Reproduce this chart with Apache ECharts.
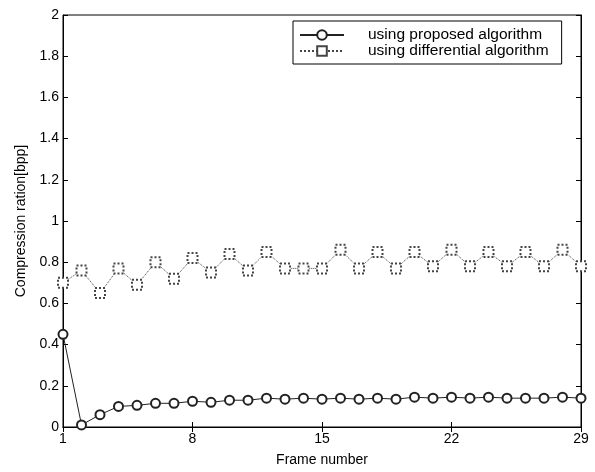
<!DOCTYPE html>
<html>
<head>
<meta charset="utf-8">
<script src="https://cdn.jsdelivr.net/npm/echarts@6/dist/echarts.min.js"></script>
<style>
  html, body { margin: 0; padding: 0; background: #fff; }
  #chartMain { width: 595px; height: 472px; }
</style>
</head>
<body>
<div id="chartMain"></div>
<script>
// frame numbers 1..29
const frames = ['1','2','3','4','5','6','7','8','9','10','11','12','13','14','15',
  '16','17','18','19','20','21','22','23','24','25','26','27','28','29'];

// compression ratio (bpp)
const proposed = [0.45, 0.01, 0.06, 0.10, 0.105, 0.115, 0.115, 0.125, 0.12, 0.13,
  0.13, 0.14, 0.135, 0.14, 0.135, 0.14, 0.135, 0.14, 0.135, 0.145,
  0.14, 0.145, 0.14, 0.145, 0.14, 0.14, 0.14, 0.145, 0.14];
const differential = [0.70, 0.76, 0.65, 0.77, 0.69, 0.80, 0.72, 0.82, 0.75, 0.84,
  0.76, 0.85, 0.77, 0.77, 0.77, 0.86, 0.77, 0.85, 0.77, 0.85,
  0.78, 0.86, 0.78, 0.85, 0.78, 0.85, 0.78, 0.86, 0.78];

const seriesNames = ['using proposed algorithm', 'using differential algorithm'];

const font = 'Liberation Sans, Arial, sans-serif';
const myChart = echarts.init(document.getElementById('chartMain'));

const tickStyle = { show: true, inside: true, length: 5, lineStyle: { color: '#000', width: 1 } };

myChart.setOption({
  animation: false,
  backgroundColor: '#fff',
  textStyle: { fontFamily: font, color: '#000' },
  grid: {
    left: 63, right: 14, top: 15, bottom: 42,
    show: true, borderColor: '#000', borderWidth: 1, containLabel: false
  },
  legend: {
    orient: 'vertical',
    left: 293, top: 21,
    padding: [6, 13, 5, 6],
    itemGap: 0,
    itemWidth: 44,
    itemHeight: 12,
    borderColor: '#000',
    borderWidth: 1,
    backgroundColor: '#fff',
    textStyle: { fontFamily: font, fontSize: 15.5, lineHeight: 13, color: '#000', padding: [0, 0, 0, 19] },
    data: seriesNames
  },
  xAxis: [{
    type: 'category',
    data: frames,
    boundaryGap: false,
    name: 'Frame number',
    nameLocation: 'middle',
    nameGap: 26,
    nameTextStyle: { fontFamily: font, fontSize: 14, color: '#000' },
    axisLine: { lineStyle: { color: '#000' } },
    axisTick: Object.assign({ interval: 6 }, tickStyle),
    axisLabel: { interval: 6, fontSize: 14, color: '#000', margin: 5 },
    splitLine: { show: false }
  }, {
    type: 'category',
    data: frames,
    boundaryGap: false,
    position: 'top',
    axisLine: { lineStyle: { color: '#000' } },
    axisTick: Object.assign({ interval: 6 }, tickStyle),
    axisLabel: { show: false },
    splitLine: { show: false }
  }],
  yAxis: [{
    type: 'value',
    min: 0, max: 2, interval: 0.2,
    name: 'Compression ration[bpp]',
    nameLocation: 'middle',
    nameGap: 34,
    nameTextStyle: { fontFamily: font, fontSize: 14, color: '#000' },
    axisLine: { show: true, lineStyle: { color: '#000' } },
    axisTick: tickStyle,
    axisLabel: { fontSize: 14, color: '#000', margin: 4 },
    splitLine: { show: false }
  }, {
    type: 'value',
    min: 0, max: 2, interval: 0.2,
    position: 'right',
    axisLine: { show: true, lineStyle: { color: '#000' } },
    axisTick: tickStyle,
    axisLabel: { show: false },
    splitLine: { show: false }
  }],
  series: [{
    name: seriesNames[0],
    type: 'line',
    data: proposed,
    symbol: 'emptyCircle',
    symbolSize: 9,
    itemStyle: { color: '#222', borderColor: '#222', borderWidth: 1 },
    lineStyle: { color: '#222', width: 1, type: 'solid' },
    z: 3
  }, {
    name: seriesNames[1],
    type: 'line',
    data: differential,
    symbol: 'emptyRect',
    symbolSize: 10,
    itemStyle: { color: '#444', borderColor: '#444', borderWidth: 1, borderType: 'dotted' },
    lineStyle: { color: '#444', width: 1, type: 'dotted' },
    z: 2
  }]
});
</script>
</body>
</html>
